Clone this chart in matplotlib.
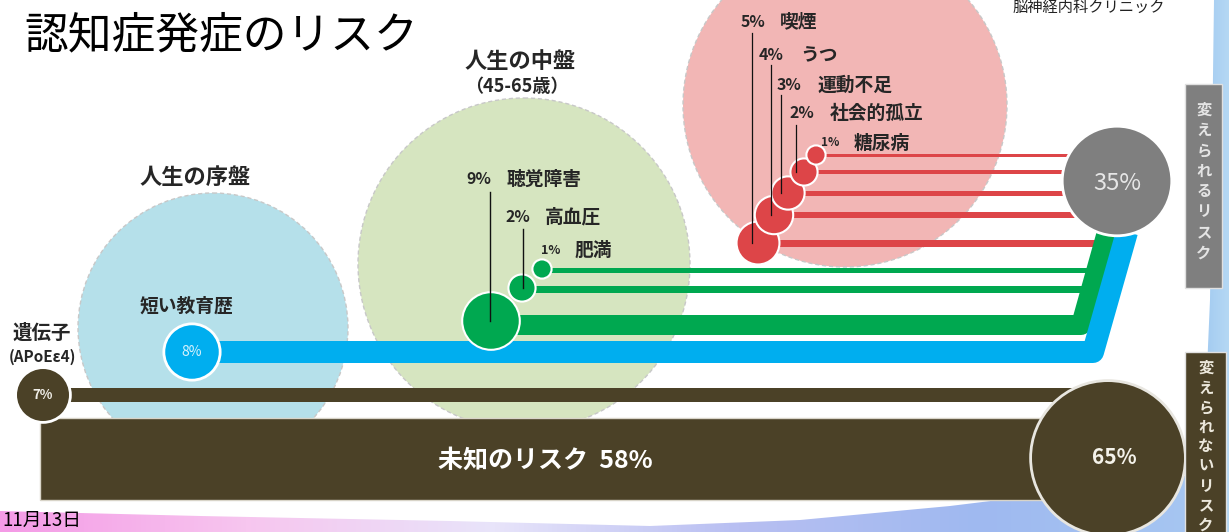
import matplotlib
matplotlib.use('Agg')
import matplotlib.pyplot as plt
from matplotlib.patches import Circle, Rectangle, Polygon
import numpy as np

plt.rcParams['font.family'] = ['Noto Sans CJK JP', 'DejaVu Sans']

# ---------------- data ----------------
title = '認知症発症のリスク'
stage_early = '人生の序盤'
stage_mid = '人生の中盤'
stage_mid_age = '（45-65歳）'
early_names = ['短い教育歴']
early_pcts = [8]
mid_names = ['聴覚障害', '高血圧', '肥満']
mid_pcts = [9, 2, 1]
late_names = ['喫煙', 'うつ', '運動不足', '社会的孤立', '糖尿病']
late_pcts = [5, 4, 3, 2, 1]
gene_name = '遺伝子'
gene_sub = '(APoEε4)'
gene_pct = 7
unknown_name = '未知のリスク'
unknown_pct = 58
modifiable_total = 35
nonmod_total = 65
side_labels = ['変えられるリスク', '変えられないリスク']
date_text = '11月13日'
source_text = '脳神経内科クリニック'

# ---------------- layout (pixels) ----------------
W, H = 1229, 532
RSCALE = 9.6  # bubble radius = RSCALE * sqrt(pct)

stage_circles = [((213, 328), 135, '#b5e0ea'),
                 ((524, 264), 166, '#d6e5c0'),
                 ((845, 105), 162, '#f2b6b5')]
early_xy = [(192, 352)]
mid_xy = [(491, 321), (522, 288), (542, 269)]
late_xy = [(758, 243), (774, 215), (788, 193), (804, 172), (816, 155)]
gene_xy = (43, 395)
mod_xy = (1117, 181)
nonmod_xy = (1108, 458)

mid_lw = [20, 7, 5]
late_lw = [7, 6, 5, 4, 3]
early_lw = [22]
gene_lw = 14

C_BLUE = '#00aeef'
C_GREEN = '#00a850'
C_RED = '#dd4548'
C_GRAY = '#7f7f7f'
C_BROWN = '#4b4127'
C_TXT = '#262626'

fig = plt.figure(figsize=(W / 100, H / 100), dpi=100)
ax = fig.add_axes([0, 0, 1, 1])
ax.set_xlim(0, W)
ax.set_ylim(H, 0)
ax.axis('off')

PX = 0.72  # points per pixel


# ---- decorative brush strokes ----
def grad_patch(pts, colors, z):
    poly = Polygon(pts, closed=True, facecolor='none', edgecolor='none')
    ax.add_patch(poly)
    xs = [p[0] for p in pts]
    ys = [p[1] for p in pts]
    cmap = matplotlib.colors.LinearSegmentedColormap.from_list('g', colors)
    grad = np.linspace(0, 1, 256)[None, :]
    im = ax.imshow(grad, cmap=cmap, extent=(min(xs), max(xs), max(ys), min(ys)),
                   aspect='auto', zorder=z, interpolation='bilinear')
    im.set_clip_path(poly)


grad_patch([(0, 511), (200, 516), (450, 521), (650, 526), (800, 520), (950, 506),
            (1080, 490), (1229, 470), (1229, 532), (0, 532)],
           ['#f49be6', '#f7c6ef', '#e8e4fa', '#b8bff2', '#9fb9f0', '#a7c8f2'], 0)
grad_patch([(1214, 0), (1229, 0), (1229, 532), (1200, 532), (1210, 300)],
           ['#9fc8f0', '#b5d8f4'], 0)
ax.set_xlim(0, W)
ax.set_ylim(H, 0)

# ---- stage circles ----
for (c, r, col) in stage_circles:
    ax.add_patch(Circle(c, r, facecolor=col, edgecolor='#c8c8c8', lw=1.0,
                        linestyle=(0, (3, 2)), zorder=1))


def rad(p):
    return RSCALE * np.sqrt(p)


# ---- flow lines ----
for (x, y), lw in zip(late_xy, late_lw):
    ax.plot([x, 1100], [y, y], color=C_RED, lw=lw * PX, solid_capstyle='butt', zorder=2)
# green
(gx, gy) = mid_xy[0]
ax.plot([gx, 1081, 1107], [gy + 4, gy + 4, 232], color=C_GREEN, lw=mid_lw[0] * PX,
        solid_capstyle='butt', solid_joinstyle='round', zorder=3)
for (x, y), lw in zip(mid_xy[1:], mid_lw[1:]):
    ax.plot([x, 1092], [y + 1, y + 1], color=C_GREEN, lw=lw * PX, solid_capstyle='butt', zorder=3)
# blue
(bx, by) = early_xy[0]
ax.plot([bx, 1093, 1127], [by, by, 232], color=C_BLUE, lw=early_lw[0] * PX,
        solid_capstyle='butt', solid_joinstyle='round', zorder=3.5)
# brown thin bar
ax.plot([gene_xy[0], nonmod_xy[0]], [gene_xy[1], gene_xy[1]], color=C_BROWN,
        lw=gene_lw * PX, solid_capstyle='butt', zorder=4)
# big unknown bar
ax.barh([459], [1070], left=40, height=82, color=C_BROWN, edgecolor='#d8d4c8', lw=1, zorder=4)
ax.text(545, 461, f'{unknown_name}  {unknown_pct}%', color='white', fontsize=18,
        fontweight='bold', ha='center', va='center', zorder=8)

# ---- bubbles ----
for (xy, p) in zip(late_xy, late_pcts):
    ax.add_patch(Circle(xy, rad(p), facecolor=C_RED, edgecolor='white', lw=1.5, zorder=5))
for (xy, p) in zip(mid_xy, mid_pcts):
    ax.add_patch(Circle(xy, rad(p), facecolor=C_GREEN, edgecolor='white', lw=1.5, zorder=5))
for (xy, p) in zip(early_xy, early_pcts):
    ax.add_patch(Circle(xy, rad(p) + 1, facecolor=C_BLUE, edgecolor='white', lw=2, zorder=5))
    ax.text(xy[0], xy[1], f'{p}%', color='#d8f2fc', fontsize=10, ha='center', va='center',
            zorder=8)
ax.add_patch(Circle(gene_xy, rad(gene_pct) + 2, facecolor=C_BROWN, edgecolor='white', lw=2, zorder=5))
ax.text(gene_xy[0], gene_xy[1], f'{gene_pct}%', color='#f0eee8', fontsize=9.5, fontweight='bold',
        ha='center', va='center', zorder=8)
ax.add_patch(Circle(mod_xy, rad(modifiable_total) - 2, facecolor=C_GRAY, edgecolor='white', lw=2, zorder=6))
ax.text(mod_xy[0], mod_xy[1] + 2, f'{modifiable_total}%', color='#e6e6e6', fontsize=17,
        ha='center', va='center', zorder=8)
ax.add_patch(Circle(nonmod_xy, rad(nonmod_total), facecolor=C_BROWN, edgecolor='#e8e6e0', lw=2, zorder=6))
ax.text(nonmod_xy[0] + 6, nonmod_xy[1] - 1, f'{nonmod_total}%', color='#f4f2ea', fontsize=15,
        fontweight='bold', ha='center', va='center', zorder=8)

# ---- leader lines & labels ----
mid_pct_xy = [(466, 179), (506, 217), (541, 250)]
mid_name_x = [507, 545, 575]
mid_leader = [(490, 192), (523, 229), None]
for i, (n, p) in enumerate(zip(mid_names, mid_pcts)):
    px, py = mid_pct_xy[i]
    ax.text(px, py, f'{p}%', fontsize=11.5 if p > 1 else 9, fontweight='bold', color=C_TXT,
            ha='left', va='center', zorder=8)
    ax.text(mid_name_x[i], py, n, fontsize=13.5, fontweight='bold', color=C_TXT,
            ha='left', va='center', zorder=8)
    if mid_leader[i]:
        lx, ly = mid_leader[i]
        ax.plot([lx, lx], [ly, mid_xy[i][1]], color='#111', lw=1.0, zorder=7)

late_pct_xy = [(741, 22), (759, 55), (777, 85), (790, 113), (821, 143)]
late_name_x = [780, 800, 817, 830, 854]
late_leader = [(752, 33), (771, 65), (781, 95), (796, 125), None]
for i, (n, p) in enumerate(zip(late_names, late_pcts)):
    px, py = late_pct_xy[i]
    ax.text(px, py, f'{p}%', fontsize=11.5 if p > 1 else 8.5, fontweight='bold', color=C_TXT,
            ha='left', va='center', zorder=8)
    ax.text(late_name_x[i], py, n, fontsize=13.5, fontweight='bold', color=C_TXT,
            ha='left', va='center', zorder=8)
    if late_leader[i]:
        lx, ly = late_leader[i]
        ax.plot([lx, lx], [ly, late_xy[i][1]], color='#111', lw=0.9, zorder=7)

ax.text(187, 306, early_names[0], fontsize=13.5, fontweight='bold', color=C_TXT,
        ha='center', va='center', zorder=8)
ax.text(195, 177, stage_early, fontsize=16, fontweight='bold', color=C_TXT,
        ha='center', va='center', zorder=8)
ax.text(520, 61, stage_mid, fontsize=16, fontweight='bold', color=C_TXT,
        ha='center', va='center', zorder=8)
ax.text(517, 86, stage_mid_age, fontsize=13, fontweight='bold', color=C_TXT,
        ha='center', va='center', zorder=8)
ax.text(42, 333, gene_name, fontsize=14, fontweight='bold', color=C_TXT,
        ha='center', va='center', zorder=8)
ax.text(42, 357, gene_sub, fontsize=11, fontweight='bold', color=C_TXT,
        ha='center', va='center', zorder=8)

# ---- title, date, source ----
ax.text(24, 35, title, fontsize=31.5, color='black', ha='left', va='center', zorder=8)
ax.text(2, 520, date_text, fontsize=13.5, color='black', ha='left', va='center', zorder=8)
ax.text(1165, 7, source_text, fontsize=11, color='#222', ha='right', va='center', zorder=8)

# ---- side boxes ----
ax.add_patch(Rectangle((1185, 84), 37, 204, facecolor=C_GRAY, edgecolor='#e0e0e0', lw=1, zorder=6))
for i, ch in enumerate(side_labels[0]):
    ax.text(1204, 110 + i * 20.3, ch, fontsize=11, fontweight='bold', color='#e4e4e4',
            ha='center', va='center', zorder=8)
ax.add_patch(Rectangle((1185, 352), 41, 190, facecolor=C_BROWN, edgecolor='#e0e0e0', lw=1, zorder=6))
for i, ch in enumerate(side_labels[1]):
    ax.text(1206, 368 + i * 19.6, ch, fontsize=11, fontweight='bold', color='#ece8dc',
            ha='center', va='center', zorder=8)

fig.savefig('out.png', dpi=100)
